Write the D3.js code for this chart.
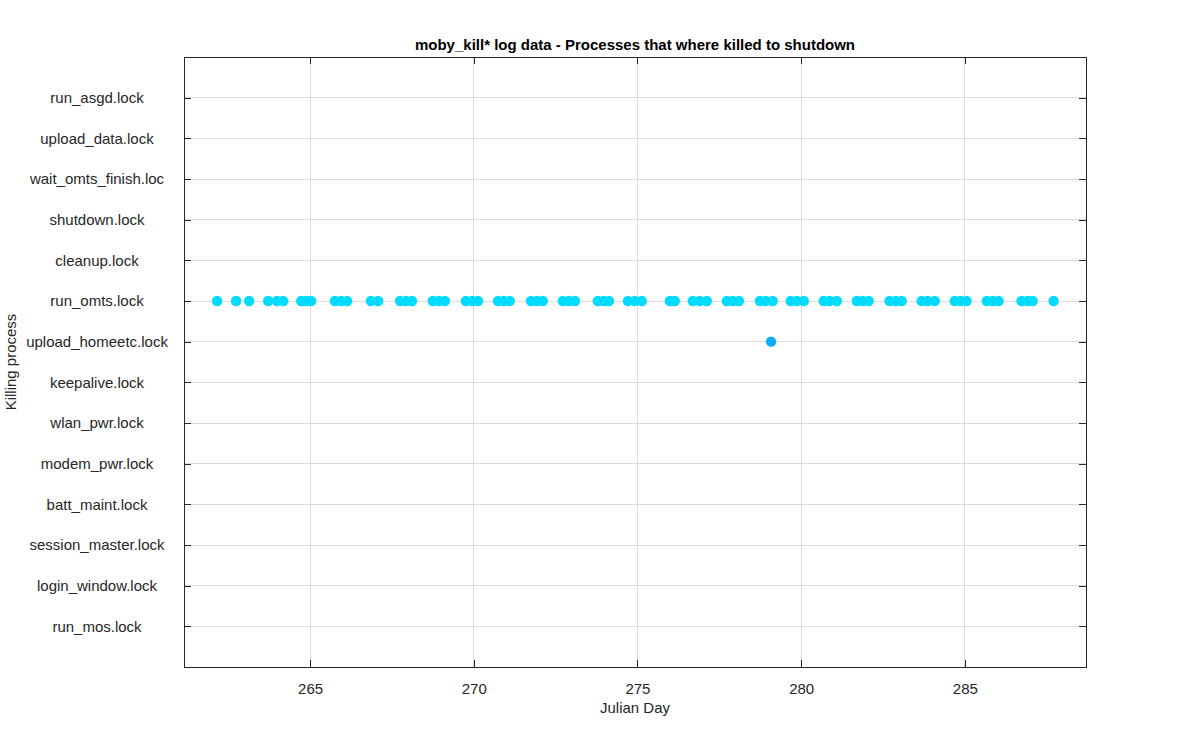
<!DOCTYPE html>
<html><head><meta charset="utf-8">
<script src="https://cdn.jsdelivr.net/npm/d3@7"></script>
<style>
body{margin:0;background:#fff;}
text{font-family:"Liberation Sans",Arial,Helvetica,sans-serif;}
</style></head>
<body><svg id="c" width="1200" height="750"></svg>
<script>
const categories = ["run_mos.lock","login_window.lock","session_master.lock","batt_maint.lock","modem_pwr.lock","wlan_pwr.lock","keepalive.lock","upload_homeetc.lock","run_omts.lock","cleanup.lock","shutdown.lock","wait_omts_finish.loc","upload_data.lock","run_asgd.lock"];
const xTicks = [265,270,275,280,285];
const xDomain = [261.15, 288.7];
const runOmtsDays = [262.16,262.74,263.14,263.72,263.99,264.18,264.73,264.88,265.03,265.76,265.95,266.13,266.86,267.08,
267.75,267.93,268.11,268.75,268.94,269.12,269.76,269.95,270.13,270.74,270.92,271.10,271.75,271.93,272.11,
272.72,272.91,273.09,273.79,273.97,274.13,274.71,274.92,275.13,275.99,276.14,276.69,276.90,277.12,
277.73,277.91,278.10,278.74,278.92,279.13,279.68,279.87,280.08,280.69,280.87,281.09,281.70,281.88,282.06,
282.70,282.89,283.07,283.68,283.86,284.08,284.69,284.87,285.05,285.67,285.85,286.03,286.73,286.92,287.07,287.71];
const uploadHomeetcDays = [279.08];

const svg = d3.select("#c");
const L=184, R=1086, T=57, B=667;
const x = d3.scaleLinear().domain(xDomain).range([L,R]);
const y = d3.scaleLinear().domain([0,categories.length+1]).range([B,T]);
const catY = c => y(categories.indexOf(c)+1);

// grid
const g = svg.append("g");
g.selectAll(".vg").data(xTicks).enter().append("line")
 .attr("x1",d=>x(d)).attr("x2",d=>x(d)).attr("y1",T).attr("y2",B)
 .attr("stroke","#dcdcdc").attr("stroke-width",1).attr("shape-rendering","crispEdges");
g.selectAll(".hg").data(categories).enter().append("line")
 .attr("x1",L).attr("x2",R).attr("y1",d=>catY(d)).attr("y2",d=>catY(d))
 .attr("stroke","#dcdcdc").attr("stroke-width",1).attr("shape-rendering","crispEdges");

// axes
const xb = svg.append("g").attr("transform",`translate(0,${B})`)
 .call(d3.axisBottom(x).tickValues(xTicks).tickSizeInner(-7).tickSizeOuter(0).tickPadding(16));
const xt = svg.append("g").attr("transform",`translate(0,${T})`)
 .call(d3.axisTop(x).tickValues(xTicks).tickSizeInner(-7).tickSizeOuter(0).tickFormat(""));
const ylab = d3.axisLeft(y).tickValues(categories.map((c,i)=>i+1)).tickFormat(i=>categories[i-1]).tickSizeInner(-7).tickSizeOuter(0).tickPadding(0);
const yl = svg.append("g").attr("transform",`translate(${L},0)`).call(ylab);
yl.selectAll("text").attr("text-anchor","middle").attr("x",-87);
const yr = svg.append("g").attr("transform",`translate(${R},0)`)
 .call(d3.axisRight(y).tickValues(categories.map((c,i)=>i+1)).tickSizeInner(-7).tickSizeOuter(0).tickFormat(""));
[xb,xt,yl,yr].forEach(a=>{
  a.select(".domain").remove();
  a.selectAll("line").attr("stroke","#262626").attr("shape-rendering","crispEdges");
  a.selectAll("text").attr("fill","#262626").style("font-size","15px");
});
svg.append("rect").attr("x",L).attr("y",T).attr("width",R-L).attr("height",B-T)
 .attr("fill","none").attr("stroke","#262626").attr("stroke-width",1).attr("shape-rendering","crispEdges");

// points
svg.append("g").selectAll("circle").data(runOmtsDays).enter().append("circle")
 .attr("cx",d=>x(d)).attr("cy",catY("run_omts.lock")).attr("r",5.2).attr("fill","#00DBFF");
svg.append("g").selectAll("circle").data(uploadHomeetcDays).enter().append("circle")
 .attr("cx",d=>x(d)).attr("cy",catY("upload_homeetc.lock")).attr("r",5.2).attr("fill","#0AAEFF");

// labels
svg.append("text").attr("x",(L+R)/2).attr("y",50).attr("text-anchor","middle")
 .style("font-size","15px").style("font-weight","bold").attr("fill","#000")
 .text("moby_kill* log data - Processes that where killed to shutdown");
svg.append("text").attr("x",(L+R)/2).attr("y",713).attr("text-anchor","middle")
 .style("font-size","15px").attr("fill","#262626").text("Julian Day");
svg.append("text").attr("transform",`translate(16,${(T+B)/2}) rotate(-90)`).attr("text-anchor","middle")
 .style("font-size","15px").attr("fill","#262626").text("Killing process");
</script></body></html>
